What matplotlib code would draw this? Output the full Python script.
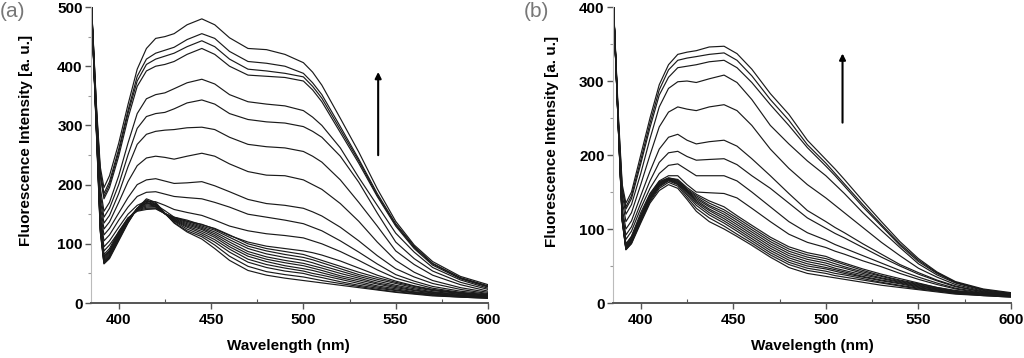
import matplotlib
matplotlib.use("Agg")
from matplotlib import pyplot as plt
from matplotlib.ticker import MultipleLocator

plt.rcParams['font.family'] = ['Liberation Sans', 'DejaVu Sans']

wavelengths = [385, 388, 390, 392, 395, 400, 405, 410, 415, 420, 425, 430, 437, 445, 452,
               460, 470, 480, 490, 500, 505, 510, 520, 530, 540, 550, 560, 570, 585, 600]

# panel (a): the separated upper spectra, highest first
spectra_a_upper = [
    [520, 330, 230, 195, 215, 270, 335, 395, 430, 447, 450, 455, 470, 480, 470, 448, 430, 428, 420, 406, 390, 368, 312, 255, 193, 138, 98, 70, 45, 31],
    [520, 325, 222, 185, 205, 260, 325, 383, 412, 422, 427, 432, 445, 455, 447, 425, 408, 405, 400, 388, 372, 352, 298, 243, 185, 134, 96, 67, 43, 29],
    [520, 322, 218, 180, 200, 255, 320, 375, 403, 412, 417, 422, 433, 443, 433, 412, 395, 392, 388, 382, 366, 346, 293, 240, 182, 132, 94, 66, 42, 28],
    [520, 320, 214, 176, 195, 248, 312, 366, 392, 400, 403, 408, 420, 430, 420, 400, 385, 383, 381, 375, 360, 340, 288, 236, 180, 130, 92, 64, 41, 27],
    [520, 310, 195, 155, 170, 215, 270, 320, 345, 352, 355, 362, 372, 378, 370, 352, 340, 336, 333, 325, 314, 300, 262, 212, 165, 118, 86, 60, 39, 25],
    [520, 305, 185, 145, 160, 200, 250, 295, 315, 320, 322, 328, 338, 343, 336, 320, 310, 306, 304, 298, 290, 280, 248, 204, 152, 103, 75, 54, 35, 23],
    [520, 300, 175, 135, 148, 185, 230, 268, 285, 290, 292, 293, 296, 297, 293, 280, 268, 264, 262, 256, 248, 238, 208, 170, 130, 88, 65, 47, 31, 20],
    [520, 295, 165, 125, 137, 170, 205, 232, 245, 248, 246, 243, 248, 253, 248, 235, 222, 216, 215, 208, 200, 192, 168, 138, 103, 72, 52, 38, 26, 18],
    [520, 292, 155, 115, 126, 152, 178, 200, 208, 210, 206, 202, 203, 205, 198, 188, 175, 168, 165, 160, 154, 147, 128, 105, 80, 58, 44, 33, 23, 16],
    [520, 290, 147, 105, 115, 140, 162, 180, 187, 188, 184, 180, 178, 176, 170, 162, 150, 145, 140, 134, 128, 122, 105, 86, 66, 48, 37, 28, 20, 15],
    [520, 288, 140, 95, 105, 128, 150, 165, 172, 171, 165, 158, 153, 148, 140, 130, 122, 117, 114, 110, 105, 100, 87, 72, 56, 42, 33, 25, 18, 14],
    [520, 286, 134, 88, 98, 120, 142, 160, 169, 166, 156, 145, 138, 133, 125, 114, 103, 96, 92, 88, 85, 81, 71, 59, 47, 37, 29, 23, 17, 13],
]

# panel (a): the dense bundle of low spectra
spectra_a_bundle = [
    [520, 280, 120, 66, 75, 105, 135, 160, 176, 170, 152, 135, 120, 108, 92, 72, 55, 47, 42, 38, 36, 34, 30, 26, 22, 18, 15, 12, 10, 8],
    [520, 282, 122, 67, 77, 107, 136, 160, 174, 168, 151, 136, 122, 112, 98, 79, 62, 53, 48, 44, 41, 38, 33, 28, 23, 19, 16, 13, 10, 8],
    [520, 285, 124, 68, 78, 108, 137, 160, 172, 167, 151, 138, 125, 115, 103, 86, 69, 60, 54, 50, 46, 43, 36, 30, 25, 21, 17, 14, 11, 9],
    [520, 288, 126, 69, 79, 110, 138, 159, 170, 166, 151, 139, 128, 118, 107, 91, 74, 65, 59, 54, 50, 47, 40, 33, 27, 22, 18, 15, 12, 9],
    [520, 290, 128, 71, 81, 111, 139, 159, 168, 165, 151, 140, 130, 121, 111, 95, 79, 70, 63, 58, 55, 51, 43, 36, 29, 24, 19, 16, 12, 10],
    [520, 292, 130, 73, 83, 113, 140, 158, 166, 164, 151, 141, 132, 124, 114, 99, 83, 74, 68, 63, 59, 55, 46, 39, 32, 26, 21, 17, 13, 10],
    [520, 295, 133, 75, 85, 115, 141, 158, 164, 163, 151, 142, 134, 126, 117, 103, 87, 78, 72, 67, 63, 59, 50, 42, 34, 28, 22, 18, 14, 11],
    [520, 298, 136, 77, 87, 117, 142, 157, 162, 162, 151, 143, 136, 128, 120, 107, 92, 83, 77, 72, 68, 63, 54, 45, 37, 30, 24, 19, 15, 12],
    [520, 300, 139, 79, 89, 119, 143, 156, 160, 160, 151, 144, 138, 130, 123, 111, 96, 88, 82, 77, 73, 68, 58, 48, 40, 33, 26, 21, 16, 12],
    [520, 302, 142, 82, 92, 121, 144, 155, 158, 159, 151, 145, 140, 132, 126, 115, 100, 92, 87, 82, 77, 72, 62, 52, 43, 35, 28, 22, 17, 13],
]

# panel (b): the separated upper spectra, highest first
spectra_b_upper = [
    [420, 250, 160, 135, 150, 200, 250, 295, 322, 336, 339, 341, 346, 347, 337, 316, 283, 255, 220, 194, 181, 167, 138, 110, 83, 60, 42, 29, 19, 14],
    [420, 245, 155, 130, 145, 193, 243, 288, 315, 328, 331, 333, 336, 338, 328, 307, 275, 247, 214, 189, 175, 161, 133, 106, 80, 58, 41, 28, 18, 13],
    [420, 242, 152, 127, 141, 188, 237, 281, 305, 318, 320, 322, 326, 328, 318, 298, 268, 240, 210, 185, 172, 158, 130, 104, 78, 56, 40, 28, 18, 13],
    [420, 238, 146, 120, 133, 175, 222, 265, 290, 299, 300, 298, 303, 308, 298, 275, 240, 215, 192, 172, 160, 148, 122, 98, 75, 53, 38, 27, 17, 12],
    [420, 234, 138, 110, 122, 160, 200, 238, 258, 265, 262, 260, 265, 268, 260, 240, 208, 182, 160, 142, 132, 122, 102, 82, 64, 47, 35, 25, 16, 12],
    [420, 232, 128, 100, 111, 145, 178, 208, 224, 228, 220, 215, 218, 220, 212, 195, 172, 148, 125, 110, 102, 95, 80, 66, 52, 41, 31, 23, 15, 11],
    [420, 230, 120, 92, 103, 135, 165, 190, 203, 205, 198, 193, 194, 195, 187, 172, 155, 135, 115, 101, 94, 88, 75, 62, 50, 39, 30, 22, 15, 11],
    [420, 230, 115, 86, 97, 128, 155, 175, 186, 188, 180, 172, 172, 172, 165, 150, 130, 110, 95, 85, 79, 74, 64, 54, 44, 35, 27, 20, 14, 10],
    [420, 230, 112, 80, 90, 122, 148, 165, 172, 172, 160, 150, 149, 148, 142, 128, 110, 93, 82, 75, 70, 66, 57, 49, 40, 32, 25, 19, 13, 10],
]

# panel (b): the dense bundle of low spectra
spectra_b_bundle = [
    [420, 230, 110, 72, 80, 108, 135, 152, 160, 155, 140, 124, 110, 100, 90, 78, 62, 48, 40, 36, 34, 32, 28, 24, 21, 18, 15, 12, 10, 8],
    [420, 232, 111, 72, 81, 110, 137, 155, 163, 158, 143, 128, 115, 104, 93, 81, 65, 52, 44, 40, 37, 35, 31, 27, 23, 19, 16, 13, 10, 8],
    [420, 233, 112, 73, 82, 111, 139, 157, 165, 160, 146, 132, 119, 108, 97, 84, 68, 55, 47, 43, 40, 38, 33, 28, 24, 20, 17, 13, 11, 9],
    [420, 234, 113, 73, 83, 112, 140, 158, 166, 161, 148, 135, 122, 111, 100, 87, 71, 58, 50, 46, 43, 40, 35, 30, 26, 21, 17, 14, 11, 9],
    [420, 235, 114, 74, 84, 113, 141, 159, 167, 162, 150, 137, 125, 114, 103, 90, 74, 61, 53, 48, 45, 42, 36, 31, 27, 22, 18, 14, 11, 9],
    [420, 236, 115, 74, 85, 114, 142, 160, 167, 163, 151, 139, 127, 117, 106, 93, 77, 64, 56, 51, 47, 44, 38, 33, 28, 23, 19, 15, 12, 9],
    [420, 237, 116, 75, 86, 115, 143, 161, 168, 164, 152, 141, 130, 120, 109, 96, 80, 67, 59, 54, 50, 47, 40, 34, 29, 24, 19, 15, 12, 10],
    [420, 238, 118, 76, 87, 116, 144, 162, 168, 165, 153, 143, 132, 123, 112, 99, 83, 70, 62, 57, 53, 49, 42, 36, 30, 25, 20, 16, 12, 10],
    [420, 240, 120, 77, 88, 117, 145, 163, 169, 166, 154, 145, 135, 126, 115, 102, 86, 73, 65, 60, 56, 52, 44, 37, 31, 26, 21, 16, 13, 10],
    [420, 242, 122, 79, 90, 119, 147, 164, 169, 167, 156, 147, 138, 130, 118, 105, 89, 76, 68, 63, 58, 54, 46, 39, 33, 27, 21, 17, 13, 10],
]


def drawPanel(ax, spectra, ymax, arrowX, arrowY0, arrowY1):
    for s in spectra:
        ax.plot(wavelengths, s, color='#1a1a1a', lw=0.85)

    ax.set_xlim(385, 600)
    ax.set_ylim(0, ymax)
    ax.xaxis.set_major_locator(MultipleLocator(50))
    ax.xaxis.set_minor_locator(MultipleLocator(25))
    ax.yaxis.set_major_locator(MultipleLocator(100))
    ax.yaxis.set_minor_locator(MultipleLocator(50))

    ax.spines['top'].set_visible(False)
    ax.spines['right'].set_visible(False)
    ax.spines['left'].set_color('#bbbbbb')
    ax.spines['left'].set_linewidth(0.8)
    ax.spines['bottom'].set_color('#555555')
    ax.spines['bottom'].set_linewidth(1.4)

    ax.tick_params(axis='x', which='major', direction='out', length=4, width=1, color='#555555', pad=3)
    ax.tick_params(axis='x', which='minor', direction='in', length=3, width=0.8, color='#555555')
    ax.tick_params(axis='y', which='major', direction='out', length=4, width=1, color='#555555', pad=2)
    ax.tick_params(axis='y', which='minor', direction='out', length=2, width=0.8, color='#999999')
    for lab in ax.get_xticklabels() + ax.get_yticklabels():
        lab.set_fontsize(11)
        lab.set_fontweight('bold')

    ax.set_xlabel('Wavelength (nm)', fontsize=11, fontweight='bold')
    ax.set_ylabel('Fluorescence Intensity [a. u.]', fontsize=11, fontweight='bold')

    ax.annotate('', xy=(arrowX, arrowY1), xytext=(arrowX, arrowY0),
                arrowprops=dict(arrowstyle='-|>', color='black', lw=1.5, mutation_scale=9))


fig = plt.figure(figsize=(10.24, 3.58), dpi=100)
axA = fig.add_axes([0.0889, 0.1536, 0.3877, 0.8268])
axB = fig.add_axes([0.5986, 0.1536, 0.3887, 0.8268])

drawPanel(axA, spectra_a_upper + spectra_a_bundle, 500, 540.5, 245, 395)
drawPanel(axB, spectra_b_upper + spectra_b_bundle, 400, 509, 240, 341)

axA.yaxis.set_label_coords(-0.146, 0.55)
axB.yaxis.set_label_coords(-0.136, 0.545)
axA.xaxis.set_label_coords(0.496, -0.122)
axB.xaxis.set_label_coords(0.5, -0.122)

fig.text(0.0, 0.995, '(a)', ha='left', va='top', fontsize=15, color='#777777')
fig.text(0.5117, 0.995, '(b)', ha='left', va='top', fontsize=15, color='#777777')

fig.savefig('out.png', dpi=100)
